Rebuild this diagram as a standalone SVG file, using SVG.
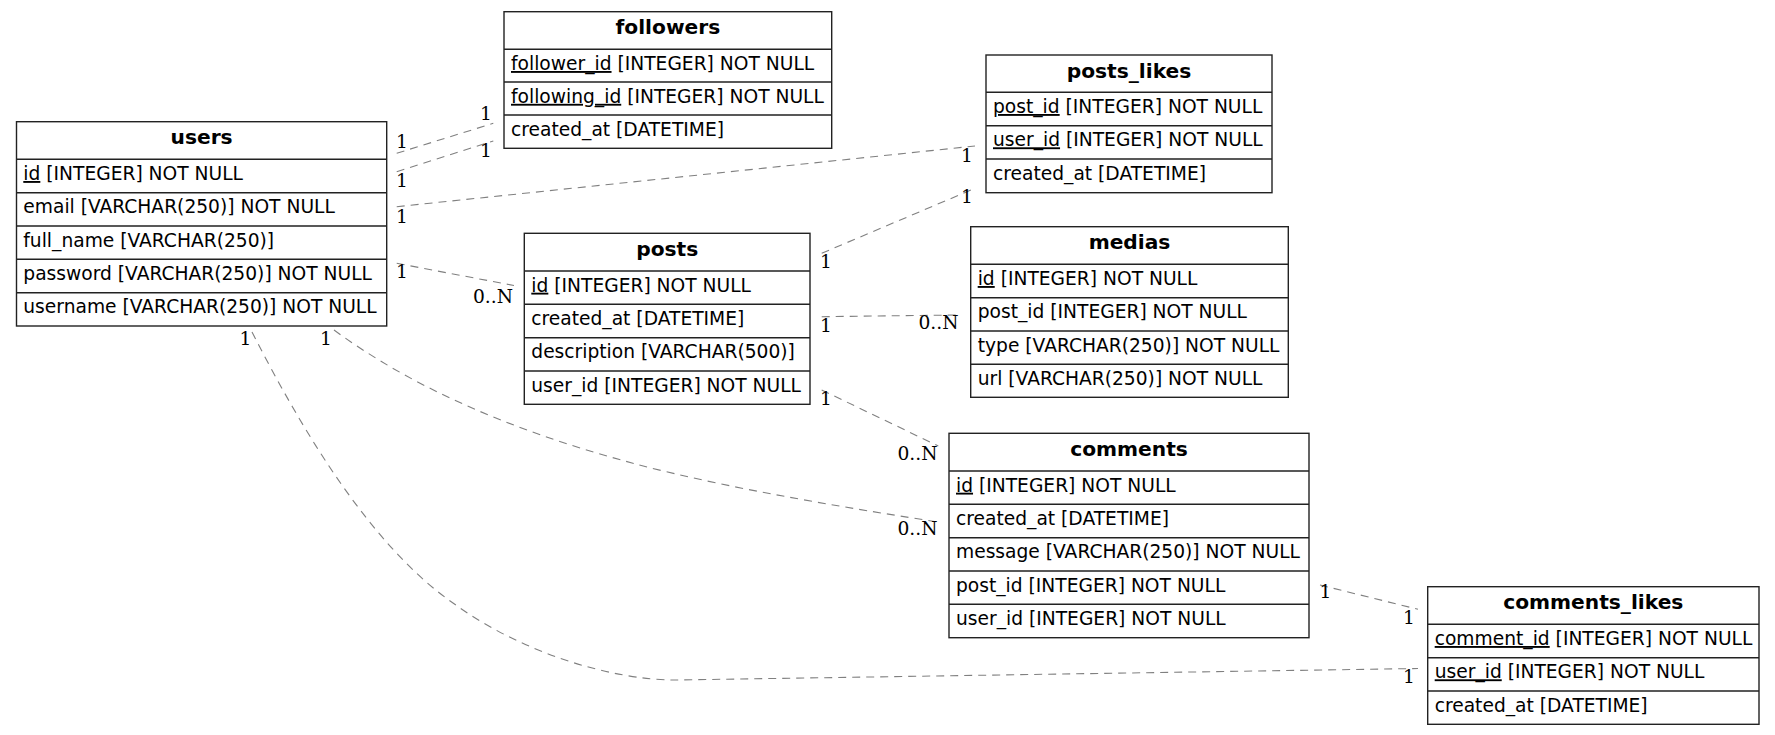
<svg xmlns="http://www.w3.org/2000/svg" width="1775" height="735" viewBox="0 0 1775 735">
<style>
.bx{fill:#fff;stroke:#222;stroke-width:1.4}
.sep{stroke:#222;stroke-width:1.4}
.t{font-family:"DejaVu Sans",sans-serif;font-size:18.67px;fill:#000}
.h{font-family:"DejaVu Sans",sans-serif;font-size:20.2px;font-weight:bold;fill:#000;text-anchor:middle}
.u{text-decoration:underline}
.e{fill:none;stroke:#808080;stroke-width:1.1;stroke-dasharray:8,6}
.l{font-family:"DejaVu Serif",serif;font-size:18.67px;fill:#000}
</style>
<rect width="1775" height="735" fill="#fff"/>
<g id="connectors">
<path class="e" d="M396.7,153.3 L493.3,123.3"/>
<path class="e" d="M396.7,171.7 L493.3,141"/>
<path class="e" d="M396.7,206.7 L975,146"/>
<path class="e" d="M396.7,263.3 L514,285.5"/>
<path class="e" d="M334,330 C424,396 532,436 632,463 C732,490 868,511 938,522"/>
<path class="e" d="M252,332 C302,430 370,545 453,603 C520,652 610,680 676,680 L1418,668.5"/>
<path class="e" d="M821.7,253.3 L975,188.3"/>
<path class="e" d="M821.7,316.7 L956.7,315"/>
<path class="e" d="M821.7,390 L938.3,446"/>
<path class="e" d="M1320,585 L1418,609.3"/>
<text class="l" x="396" y="148">1</text>
<text class="l" x="396" y="186.7">1</text>
<text class="l" x="396" y="223">1</text>
<text class="l" x="396" y="277.7">1</text>
<text class="l" x="480" y="120">1</text>
<text class="l" x="480" y="156.7">1</text>
<text class="l" x="961" y="161.7">1</text>
<text class="l" x="961" y="202.7">1</text>
<text class="l" x="473" y="303">0..N</text>
<text class="l" x="820" y="268.3">1</text>
<text class="l" x="820" y="331.7">1</text>
<text class="l" x="820" y="405">1</text>
<text class="l" x="918.5" y="329.3">0..N</text>
<text class="l" x="897.5" y="460">0..N</text>
<text class="l" x="897.5" y="535">0..N</text>
<text class="l" x="239.5" y="345">1</text>
<text class="l" x="320" y="345">1</text>
<text class="l" x="1403" y="624">1</text>
<text class="l" x="1403" y="682.7">1</text>
<text class="l" x="1319.5" y="598">1</text>
</g>
<g id="users">
<rect class="bx" x="16.5" y="121.7" width="370.2" height="204.3"/>
<path class="sep" d="M16.5,159.3H386.7M16.5,192.7H386.7M16.5,226H386.7M16.5,259.3H386.7M16.5,292.7H386.7"/>
<text class="h" x="201.6" y="144.4">users</text>
<text class="t" x="23.3" y="180"><tspan class="u">id</tspan> [INTEGER] NOT NULL</text>
<text class="t" x="23.3" y="213.3">email [VARCHAR(250)] NOT NULL</text>
<text class="t" x="23.3" y="246.6">full_name [VARCHAR(250)]</text>
<text class="t" x="23.3" y="279.9">password [VARCHAR(250)] NOT NULL</text>
<text class="t" x="23.3" y="313.2">username [VARCHAR(250)] NOT NULL</text>
</g>
<g id="followers">
<rect class="bx" x="504" y="11.7" width="327.7" height="136.6"/>
<path class="sep" d="M504,49.3H831.7M504,82H831.7M504,115H831.7"/>
<text class="h" x="667.9" y="34.4">followers</text>
<text class="t" x="511" y="70"><tspan class="u">follower_id</tspan> [INTEGER] NOT NULL</text>
<text class="t" x="511" y="102.8"><tspan class="u">following_id</tspan> [INTEGER] NOT NULL</text>
<text class="t" x="511" y="135.6">created_at [DATETIME]</text>
</g>
<g id="posts_likes">
<rect class="bx" x="986" y="55" width="286" height="137.7"/>
<path class="sep" d="M986,92.3H1272M986,125.7H1272M986,159H1272"/>
<text class="h" x="1129" y="77.7">posts_likes</text>
<text class="t" x="993" y="113"><tspan class="u">post_id</tspan> [INTEGER] NOT NULL</text>
<text class="t" x="993" y="146.3"><tspan class="u">user_id</tspan> [INTEGER] NOT NULL</text>
<text class="t" x="993" y="179.6">created_at [DATETIME]</text>
</g>
<g id="posts">
<rect class="bx" x="524.3" y="233.3" width="285.7" height="171"/>
<path class="sep" d="M524.3,271H810M524.3,304.3H810M524.3,337.7H810M524.3,371H810"/>
<text class="h" x="667.2" y="256">posts</text>
<text class="t" x="531.3" y="291.7"><tspan class="u">id</tspan> [INTEGER] NOT NULL</text>
<text class="t" x="531.3" y="325">created_at [DATETIME]</text>
<text class="t" x="531.3" y="358.3">description [VARCHAR(500)]</text>
<text class="t" x="531.3" y="391.6">user_id [INTEGER] NOT NULL</text>
</g>
<g id="medias">
<rect class="bx" x="970.7" y="226.7" width="317.6" height="170.6"/>
<path class="sep" d="M970.7,264.3H1288.3M970.7,297.7H1288.3M970.7,331H1288.3M970.7,364.3H1288.3"/>
<text class="h" x="1129.5" y="249.4">medias</text>
<text class="t" x="977.7" y="285"><tspan class="u">id</tspan> [INTEGER] NOT NULL</text>
<text class="t" x="977.7" y="318.3">post_id [INTEGER] NOT NULL</text>
<text class="t" x="977.7" y="351.6">type [VARCHAR(250)] NOT NULL</text>
<text class="t" x="977.7" y="384.9">url [VARCHAR(250)] NOT NULL</text>
</g>
<g id="comments">
<rect class="bx" x="949" y="433.3" width="360" height="204.4"/>
<path class="sep" d="M949,471H1309M949,504.3H1309M949,537.7H1309M949,571H1309M949,604.3H1309"/>
<text class="h" x="1129" y="456">comments</text>
<text class="t" x="956" y="491.7"><tspan class="u">id</tspan> [INTEGER] NOT NULL</text>
<text class="t" x="956" y="525">created_at [DATETIME]</text>
<text class="t" x="956" y="558.3">message [VARCHAR(250)] NOT NULL</text>
<text class="t" x="956" y="591.6">post_id [INTEGER] NOT NULL</text>
<text class="t" x="956" y="624.9">user_id [INTEGER] NOT NULL</text>
</g>
<g id="comments_likes">
<rect class="bx" x="1427.7" y="586.7" width="331.3" height="137.6"/>
<path class="sep" d="M1427.7,624.3H1759M1427.7,657.7H1759M1427.7,691H1759"/>
<text class="h" x="1593.3" y="609.4">comments_likes</text>
<text class="t" x="1434.7" y="645"><tspan class="u">comment_id</tspan> [INTEGER] NOT NULL</text>
<text class="t" x="1434.7" y="678.3"><tspan class="u">user_id</tspan> [INTEGER] NOT NULL</text>
<text class="t" x="1434.7" y="711.6">created_at [DATETIME]</text>
</g>
</svg>
